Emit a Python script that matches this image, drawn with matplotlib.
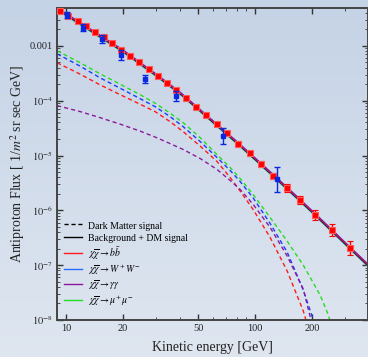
import numpy as np
import matplotlib
matplotlib.use('Agg')
import matplotlib.pyplot as plt
from matplotlib.colors import LinearSegmentedColormap
from matplotlib.ticker import FixedLocator, FuncFormatter, NullFormatter, LogLocator

plt.rcParams['font.family'] = ['Liberation Serif', 'DejaVu Serif']
plt.rcParams['mathtext.fontset'] = 'stix'

# ---------------- data ----------------
# red data points (energy GeV, flux, error in decades)
red_E = [9.3, 10.25, 11.57, 12.76, 14.2, 15.9, 17.5, 19.5, 21.8, 24.3, 27.5, 30.7, 34.2, 38.2,
         43.2, 48.7, 55.1, 63.0, 71.1, 81.3, 94.1, 107.7, 124.5, 147.6, 173, 207.6, 255, 318]
red_F = [4.33e-3, 3.51e-3, 2.85e-3, 2.31e-3, 1.80e-3, 1.46e-3, 1.13e-3, 8.46e-4, 6.58e-4, 5.12e-4,
         3.82e-4, 2.85e-4, 2.12e-4, 1.58e-4, 1.13e-4, 7.78e-5, 5.56e-5, 3.82e-5, 2.62e-5, 1.65e-5,
         1.09e-5, 6.86e-6, 4.15e-6, 2.51e-6, 1.52e-6, 8.11e-7, 4.33e-7, 2.04e-7]
red_err = [0.03, 0.03, 0.03, 0.03, 0.03, 0.03, 0.03, 0.03, 0.03, 0.03, 0.03, 0.03, 0.03, 0.03,
           0.035, 0.035, 0.035, 0.035, 0.035, 0.04, 0.045, 0.055, 0.055, 0.073, 0.073, 0.091, 0.109, 0.127]

# blue data points
blue_E = [10.12, 12.3, 15.5, 19.5, 26.2, 38.2, 67.8, 130.6]
blue_F = [3.66e-3, 2.12e-3, 1.34e-3, 6.86e-4, 2.51e-4, 1.23e-4, 2.31e-5, 3.66e-6]
blue_err = [0.055, 0.064, 0.073, 0.091, 0.073, 0.091, 0.145, 0.236]

# background + DM signal (solid curves)
sol_E = [9, 10, 12, 15, 20, 25, 30, 40, 50, 60, 80, 100, 130, 160, 200, 250, 300, 400]
sol_black = [4.64e-3, 3.69e-3, 2.47e-3, 1.51e-3, 8.01e-4, 4.57e-4, 2.90e-4, 1.37e-4, 7.06e-5, 4.08e-5,
             1.72e-5, 8.61e-6, 3.76e-6, 1.94e-6, 9.44e-7, 4.52e-7, 2.47e-7, 9.6e-8]
sol_red = [4.73e-3, 3.76e-3, 2.52e-3, 1.54e-3, 8.17e-4, 4.66e-4, 2.96e-4, 1.40e-4, 7.20e-5, 4.16e-5,
           1.75e-5, 8.78e-6, 3.84e-6, 1.98e-6, 9.63e-7, 4.61e-7, 2.52e-7, 9.8e-8]
sol_blue = [4.55e-3, 3.62e-3, 2.42e-3, 1.48e-3, 7.85e-4, 4.48e-4, 2.84e-4, 1.34e-4, 6.92e-5, 4.0e-5,
            1.69e-5, 8.44e-6, 3.68e-6, 1.90e-6, 9.25e-7, 4.43e-7, 2.42e-7, 9.4e-8]
sol_purple = [4.87e-3, 3.87e-3, 2.59e-3, 1.59e-3, 8.41e-4, 4.80e-4, 3.05e-4, 1.44e-4, 7.41e-5, 4.28e-5,
              1.81e-5, 9.04e-6, 3.95e-6, 2.04e-6, 9.91e-7, 4.75e-7, 2.59e-7, 1.01e-7]
sol_green = [4.45e-3, 3.54e-3, 2.37e-3, 1.45e-3, 7.69e-4, 4.39e-4, 2.78e-4, 1.32e-4, 6.78e-5, 3.92e-5,
             1.65e-5, 8.27e-6, 3.61e-6, 1.86e-6, 9.06e-7, 4.34e-7, 2.37e-7, 9.2e-8]

# dark matter signal (dashed curves)
dm_green_E = [8.96, 11.9, 15.1, 19.3, 24.6, 29.6, 35.5, 41.6, 51.2, 62.9, 73.8, 83.3, 97.6, 120, 148,
              180, 221, 243, 252]
dm_green_F = [8.11e-4, 4.91e-4, 3.10e-4, 2.00e-4, 1.29e-4, 9.01e-5, 5.93e-5, 3.98e-5, 2.12e-5, 1.04e-5,
              6.05e-6, 3.82e-6, 1.95e-6, 7.46e-7, 2.73e-7, 1.0e-7, 2.85e-8, 1.29e-8, 8.46e-9]
dm_blue_E = [8.96, 11.9, 15.1, 19.3, 24.6, 29.6, 35.5, 41.6, 51.2, 62.9, 73.8, 83.3, 97.6, 120, 148,
             180, 200.3, 205.2]
dm_blue_F = [7.15e-4, 4.24e-4, 2.62e-4, 1.69e-4, 1.09e-4, 7.78e-5, 5.12e-5, 3.37e-5, 1.80e-5, 9.20e-6,
             5.34e-6, 3.37e-6, 1.69e-6, 5.80e-7, 1.72e-7, 3.51e-8, 1.18e-8, 8.46e-9]
dm_red_E = [8.96, 11.9, 15.1, 19.3, 24.6, 29.6, 35.5, 41.6, 51.2, 62.9, 73.8, 83.3, 97.6, 120, 148,
            180, 188.4]
dm_red_F = [4.91e-4, 3.03e-4, 1.95e-4, 1.29e-4, 8.64e-5, 6.31e-5, 4.15e-5, 2.73e-5, 1.49e-5, 7.78e-6,
            3.98e-6, 2.26e-6, 1.04e-6, 3.23e-7, 7.78e-8, 1.46e-8, 8.46e-9]
dm_purple_E = [8.96, 11.9, 15.1, 19.3, 24.6, 29.6, 35.5, 41.6, 51.2, 62.9, 73.8, 83.3, 97.6, 120, 148,
               180, 195.4, 200.3]
dm_purple_F = [8.11e-5, 6.31e-5, 4.91e-5, 3.74e-5, 2.79e-5, 2.17e-5, 1.65e-5, 1.29e-5, 8.82e-6, 5.57e-6,
               3.51e-6, 2.41e-6, 1.29e-6, 4.91e-7, 1.46e-7, 3.66e-8, 1.18e-8, 8.46e-9]

x_major = [10, 20, 50, 100, 200]
x_minor = [9, 30, 40, 60, 70, 80, 90, 300, 400]
y_major = [1e-8, 1e-7, 1e-6, 1e-5, 1e-4, 1e-3]

legend_labels = ['Dark Matter signal', 'Background + DM signal',
                 r'$\chi\overline{\chi}\rightarrow b\bar{b}$',
                 r'$\chi\overline{\chi}\rightarrow W^{+}\,W^{-}$',
                 r'$\chi\overline{\chi}\rightarrow \gamma\gamma$',
                 r'$\chi\overline{\chi}\rightarrow \mu^{+}\,\mu^{-}$']

C_RED = '#ff1a1a'
C_BLUE = '#1a3cff'
C_PURPLE = '#8a1a9a'
C_GREEN = '#22dd22'

# ---------------- figure ----------------
fig = plt.figure(figsize=(3.68, 3.57), dpi=100)
bg = fig.add_axes([0, 0, 1, 1], zorder=-10)
grad = np.linspace(0, 1, 256).reshape(-1, 1)
cmap = LinearSegmentedColormap.from_list('bg', ['#c5d3e6', '#dfe6f0'])
bg.imshow(grad, aspect='auto', cmap=cmap, extent=[0, 1, 0, 1], origin='upper')
bg.axis('off')

ax = fig.add_axes([57 / 368, 1 - 320 / 357, 311 / 368, 312 / 357])
ax.patch.set_alpha(0)
ax.set_xscale('log')
ax.set_yscale('log')
ax.set_xlim(8.95, 396)
ax.set_ylim(1e-8, 4.9e-3)

dash = (0, (3.0, 2.2))
ax.plot(dm_green_E, dm_green_F, color=C_GREEN, lw=1.0, ls=dash)
ax.plot(dm_blue_E, dm_blue_F, color=C_BLUE, lw=1.0, ls=dash)
ax.plot(dm_red_E, dm_red_F, color=C_RED, lw=1.0, ls=dash)
ax.plot(dm_purple_E, dm_purple_F, color=C_PURPLE, lw=1.0, ls=dash)

ax.plot(sol_E, sol_green, color=C_GREEN, lw=1.0)
ax.plot(sol_E, sol_blue, color=C_BLUE, lw=1.0)
ax.plot(sol_E, sol_black, color='black', lw=1.0)
ax.plot(sol_E, sol_red, color=C_RED, lw=1.0)
ax.plot(sol_E, sol_purple, color=C_PURPLE, lw=1.0)

rF = np.array(red_F)
rE = np.array(red_err)
ax.errorbar(red_E, red_F, yerr=[rF - rF * 10 ** (-rE), rF * 10 ** rE - rF], fmt='s', color='red',
            ms=4.8, mec='#ff5a5a', mew=0.8, ecolor='red', elinewidth=1.0, capsize=2.5, zorder=5)
bF = np.array(blue_F)
bE = np.array(blue_err)
ax.errorbar(blue_E, blue_F, yerr=[bF - bF * 10 ** (-bE), bF * 10 ** bE - bF], fmt='s', color='#0a28e0',
            ms=3, ecolor='#0a28e0', elinewidth=1.0, capsize=2.5, zorder=6)

# ticks
ax.xaxis.set_major_locator(FixedLocator(x_major))
ax.xaxis.set_minor_locator(FixedLocator(x_minor))
ax.xaxis.set_major_formatter(FuncFormatter(lambda v, p: '%d' % v))
ax.xaxis.set_minor_formatter(NullFormatter())
ax.yaxis.set_major_locator(FixedLocator(y_major))
ax.yaxis.set_minor_locator(LogLocator(base=10, subs=np.arange(2, 10)))
ax.yaxis.set_minor_formatter(NullFormatter())


def yfmt(v, p):
    e = int(round(np.log10(v)))
    if e == -3:
        return '0.001'
    return r'$10^{%d}$' % e


ax.yaxis.set_major_formatter(FuncFormatter(yfmt))
ax.tick_params(which='both', direction='in', top=True, right=True, colors='#333333',
               labelcolor='#222222', labelsize=7.5)
ax.tick_params(which='major', length=4, width=1.0, pad=3)
ax.tick_params(which='minor', length=2, width=0.6)
for s in ax.spines.values():
    s.set_color('#444444')
    s.set_linewidth(1.4)

ax.set_xlabel('Kinetic energy [GeV]', fontsize=10, labelpad=5.5, color='#222222')
ax.set_ylabel(r'Antiproton Flux [ 1/$m^2$ sr sec GeV]', fontsize=10, labelpad=2, color='#222222')

handles = [plt.Line2D([], [], color='black', lw=1.0, ls=(0, (3, 2))),
           plt.Line2D([], [], color='black', lw=1.0),
           plt.Line2D([], [], color=C_RED, lw=1.0),
           plt.Line2D([], [], color='#2a6cff', lw=1.0),
           plt.Line2D([], [], color=C_PURPLE, lw=1.0),
           plt.Line2D([], [], color=C_GREEN, lw=1.0)]
leg = ax.legend(handles, legend_labels, loc='lower left', bbox_to_anchor=(0.01, 0.025), fontsize=7,
                frameon=True, fancybox=False, framealpha=0, edgecolor='#222222', handlelength=1.9,
                handleheight=1.45, handletextpad=0.6, labelspacing=0.13, borderpad=0.4,
                borderaxespad=0)
leg.get_frame().set_linewidth(1.0)

fig.savefig('out.png', dpi=100)
